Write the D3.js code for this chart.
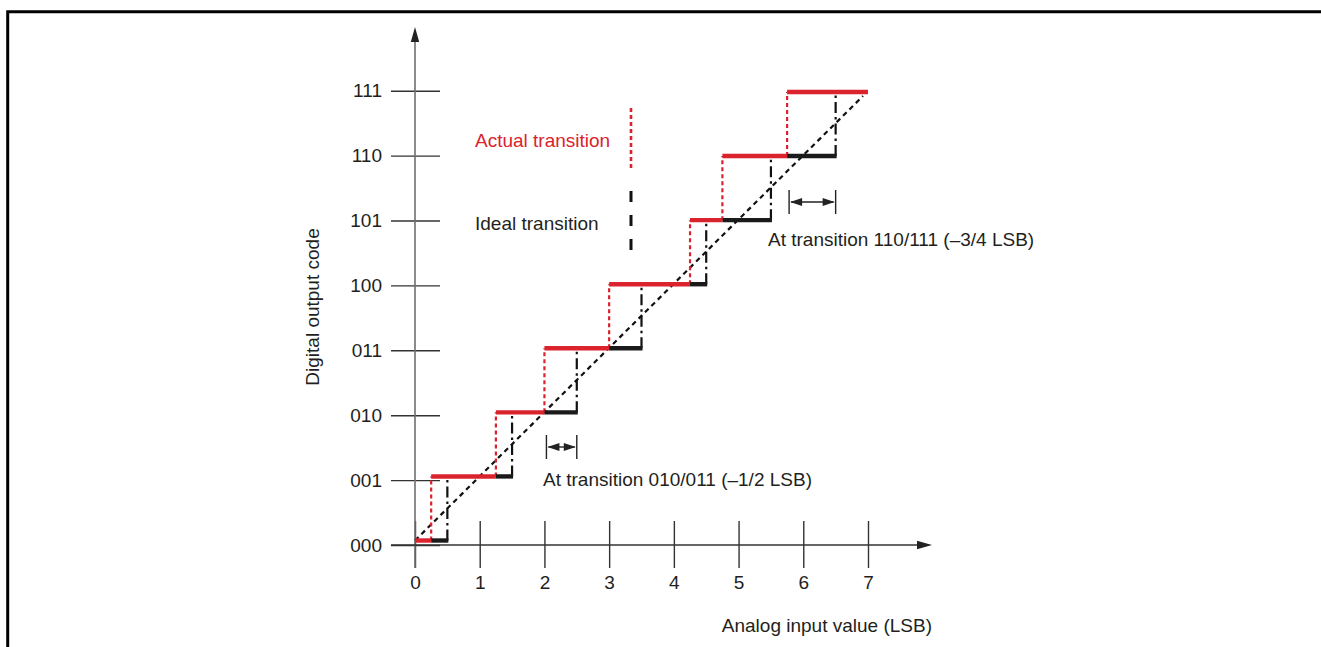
<!DOCTYPE html>
<html>
<head>
<meta charset="utf-8">
<script src="https://cdn.jsdelivr.net/npm/d3@7"></script>
<style>
body { margin: 0; background: #fff; }
svg { display: block; font-family: "Liberation Sans", Arial, Helvetica, sans-serif; }
</style>
</head>
<body>
<svg id="chart" width="1321" height="647"></svg>
<script>
// data
var codes = ["000", "001", "010", "011", "100", "101", "110", "111"];
var inputTicks = [0, 1, 2, 3, 4, 5, 6, 7];
var actualTransitions = [0.25, 1.25, 2, 3, 4.25, 4.75, 5.75]; // code k -> k+1
var idealTransitions = [0.5, 1.5, 2.5, 3.5, 4.5, 5.5, 6.5];
var inputMax = 7;
var notes = [
  {text: "At transition 010/011 (\u20131/2 LSB)", from: 2, to: 2.5},
  {text: "At transition 110/111 (\u20133/4 LSB)", from: 5.75, to: 6.5}
];

var app = {};
app.red = "#da232c";
app.ink = "#231f20";
app.fs = 19; // font size used for every label

var svg = d3.select("#chart");
var x = d3.scaleLinear().domain([0, inputMax]).range([415, 868]);
var y = d3.scaleLinear().domain([0, 7]).range([545, 90.7]);     // tick positions
var yLevel = d3.scaleLinear().domain([0, 7]).range([540.5, 92]); // drawn steps sit a bit above

// frame (only top and left edges show)
svg.append("path")
  .attr("d", "M7.7,647 V11.7 H1321")
  .attr("fill", "none")
  .attr("stroke", "#000")
  .attr("stroke-width", 3);

// y axis
var yAxis = d3.axisLeft(y)
  .tickValues(d3.range(codes.length))
  .tickFormat(function(d){ return codes[d]; })
  .tickSize(49)
  .tickPadding(9);
var gy = svg.append("g").attr("transform", "translate(440,0)").call(yAxis);
gy.select(".domain").remove();
gy.selectAll("line").attr("stroke", "#333").attr("stroke-width", 1.4);
gy.selectAll("text").attr("font-size", app.fs).attr("fill", app.ink)
  .attr("font-family", "Liberation Sans, Arial, sans-serif");

// x axis
var xAxis = d3.axisBottom(x)
  .tickValues(inputTicks)
  .tickFormat(d3.format("d"))
  .tickSize(47)
  .tickPadding(8);
var gx = svg.append("g").attr("transform", "translate(0,521)").call(xAxis);
gx.select(".domain").remove();
gx.selectAll("line").attr("stroke", "#333").attr("stroke-width", 1.4);
gx.selectAll("text").attr("font-size", app.fs).attr("fill", app.ink)
  .attr("font-family", "Liberation Sans, Arial, sans-serif");

// axis lines with arrow heads
svg.append("line")
  .attr("x1", x(0)).attr("x2", x(0))
  .attr("y1", 568).attr("y2", 40)
  .attr("stroke", "#6f6f6f").attr("stroke-width", 1.6);
svg.append("path")
  .attr("d", "M" + x(0) + ",27 l-4.2,15 h8.4 z")
  .attr("fill", "#222");
svg.append("line")
  .attr("x1", 391).attr("x2", 920)
  .attr("y1", y(0)).attr("y2", y(0))
  .attr("stroke", "#333").attr("stroke-width", 1.4);
svg.append("path")
  .attr("d", "M932," + y(0) + " l-15,-4.2 v8.4 z")
  .attr("fill", "#222");

// step segments
var redLevels = codes.map(function(c, k){
  return {k: k,
    x0: k == 0 ? 0 : actualTransitions[k - 1],
    x1: k == codes.length - 1 ? inputMax : actualTransitions[k]};
});
var blackLevels = actualTransitions.map(function(t, k){
  return {k: k, x0: t, x1: idealTransitions[k]};
});

// ideal straight line
svg.append("line")
  .attr("x1", x(0)).attr("y1", yLevel(0))
  .attr("x2", x(inputMax) - 5).attr("y2", yLevel(7) + 4)
  .attr("stroke", "#111").attr("stroke-width", 2.2)
  .attr("stroke-dasharray", "5,4");

// ideal transitions (dash-dot)
svg.selectAll(".idealRise")
  .data(idealTransitions)
  .enter().append("line")
  .attr("class", "idealRise")
  .attr("x1", function(d){ return x(d); })
  .attr("x2", function(d){ return x(d); })
  .attr("y1", function(d, i){ return yLevel(i); })
  .attr("y2", function(d, i){ return yLevel(i + 1); })
  .attr("stroke", "#111").attr("stroke-width", 2.2)
  .attr("stroke-dasharray", "11,4,2.5,4");

// actual transitions (red dotted)
svg.selectAll(".actualRise")
  .data(actualTransitions)
  .enter().append("line")
  .attr("class", "actualRise")
  .attr("x1", function(d){ return x(d); })
  .attr("x2", function(d){ return x(d); })
  .attr("y1", function(d, i){ return yLevel(i); })
  .attr("y2", function(d, i){ return yLevel(i + 1); })
  .attr("stroke", app.red).attr("stroke-width", 2.2)
  .attr("stroke-dasharray", "4,3");

svg.selectAll(".blackLevel")
  .data(blackLevels)
  .enter().append("line")
  .attr("class", "blackLevel")
  .attr("x1", function(d){ return x(d.x0); })
  .attr("x2", function(d){ return x(d.x1) + 1; })
  .attr("y1", function(d){ return yLevel(d.k); })
  .attr("y2", function(d){ return yLevel(d.k); })
  .attr("stroke", "#1a1a1a").attr("stroke-width", 4.4);

svg.selectAll(".redLevel")
  .data(redLevels)
  .enter().append("line")
  .attr("class", "redLevel")
  .attr("x1", function(d){ return x(d.x0); })
  .attr("x2", function(d){ return x(d.x1); })
  .attr("y1", function(d){ return yLevel(d.k); })
  .attr("y2", function(d){ return yLevel(d.k); })
  .attr("stroke", app.red).attr("stroke-width", 4.4);

// legend
svg.append("text").attr("x", 475).attr("y", 147)
  .attr("font-size", app.fs).attr("fill", app.red).text("Actual transition");
svg.append("line")
  .attr("x1", 631).attr("x2", 631).attr("y1", 108).attr("y2", 171)
  .attr("stroke", app.red).attr("stroke-width", 2.6)
  .attr("stroke-dasharray", "4,3");
svg.append("text").attr("x", 475).attr("y", 230)
  .attr("font-size", app.fs).attr("fill", app.ink).text("Ideal transition");
svg.append("line")
  .attr("x1", 631).attr("x2", 631).attr("y1", 191).attr("y2", 252)
  .attr("stroke", "#111").attr("stroke-width", 3)
  .attr("stroke-dasharray", "11,13");

// error annotations
var noteLayout = [
  {cy: 447, tx: 543, ty: 486},
  {cy: 202, tx: 768, ty: 245.5}
];
notes.forEach(function(n, i){
  var L = noteLayout[i];
  var a = x(n.from) + 2, b = x(n.to);
  var g = svg.append("g");
  [a, b].forEach(function(bx){
    g.append("line")
      .attr("x1", bx).attr("x2", bx)
      .attr("y1", L.cy - 12).attr("y2", L.cy + 12)
      .attr("stroke", "#222").attr("stroke-width", 1.4);
  });
  var head = Math.min(12, (b - a) / 2 - 3);
  g.append("line")
    .attr("x1", a + 2).attr("x2", b - 2)
    .attr("y1", L.cy).attr("y2", L.cy)
    .attr("stroke", "#222").attr("stroke-width", 1.4);
  g.append("path")
    .attr("d", "M" + (a + 1) + "," + L.cy + " l" + head + ",-4 v8 z" +
               "M" + (b - 1) + "," + L.cy + " l" + (-head) + ",-4 v8 z")
    .attr("fill", "#222");
  g.append("text").attr("x", L.tx).attr("y", L.ty)
    .attr("font-size", app.fs).attr("fill", app.ink).text(n.text);
});

// axis titles
svg.append("text")
  .attr("x", 932).attr("y", 632)
  .attr("text-anchor", "end")
  .attr("font-size", app.fs).attr("fill", app.ink)
  .text("Analog input value (LSB)");
svg.append("text")
  .attr("transform", "translate(319,307) rotate(-90)")
  .attr("text-anchor", "middle")
  .attr("font-size", app.fs).attr("fill", app.ink)
  .text("Digital output code");
</script>
</body>
</html>
